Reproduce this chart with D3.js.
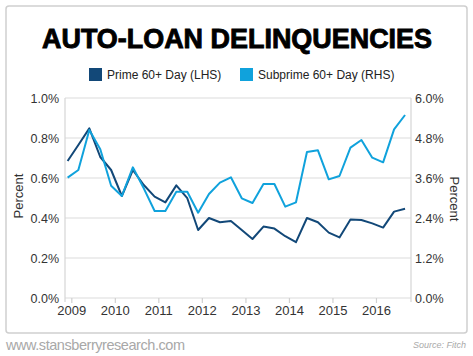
<!DOCTYPE html>
<html><head><meta charset="utf-8">
<script src="https://cdn.jsdelivr.net/npm/d3@7"></script>
<style>body{margin:0;background:#fff}svg{display:block}</style>
</head><body><svg id="c" width="473" height="356"></svg>
<script>
const dates = ["2008-12","2009-03","2009-06","2009-09","2009-12","2010-03","2010-06","2010-09",
  "2010-12","2011-03","2011-06","2011-09","2011-12","2012-03","2012-06","2012-09",
  "2012-12","2013-03","2013-06","2013-09","2013-12","2014-03","2014-06","2014-09",
  "2014-12","2015-03","2015-06","2015-09","2015-12","2016-03","2016-06","2016-09"];
const prime = [0.685,0.765,0.848,0.705,0.64,0.51,0.64,0.565,
  0.507,0.478,0.563,0.499,0.34,0.40,0.379,0.385,
  0.34,0.295,0.357,0.347,0.309,0.279,0.40,0.379,
  0.327,0.303,0.392,0.39,0.373,0.352,0.432,0.446];
const subprime = [3.61,3.84,5.04,4.46,3.37,3.06,3.92,3.29,
  2.61,2.61,3.19,3.19,2.56,3.12,3.46,3.62,
  2.99,2.85,3.42,3.42,2.74,2.87,4.38,4.43,
  3.56,3.66,4.51,4.74,4.21,4.07,5.06,5.49];
const leftTicks = [0,0.2,0.4,0.6,0.8,1.0];
const rightTicks = [0,1.2,2.4,3.6,4.8,6.0];
const yearTicks = [2009,2010,2011,2012,2013,2014,2015,2016];
const seriesNames = ["Prime 60+ Day (LHS)","Subprime 60+ Day (RHS)"];
const colors = ["#124878","#10a2dc"];

const parse = d3.timeParse("%Y-%m");
const svg = d3.select("#c");
const font = "'Liberation Sans', Arial, sans-serif";

svg.append("rect").attr("x",6).attr("y",6).attr("width",461).attr("height",327)
  .attr("rx",3).attr("fill","#fff").attr("stroke","#cfcfcf").attr("stroke-width",1.5);

svg.append("text").attr("x",237).attr("y",47.5).attr("text-anchor","middle")
  .attr("font-family",font).attr("font-weight",900).attr("font-size",27)
  .attr("textLength",390).attr("lengthAdjust","spacingAndGlyphs")
  .attr("fill","#000").attr("stroke","#000").attr("stroke-width",0.9)
  .text("AUTO-LOAN DELINQUENCIES");

const x = d3.scaleTime().domain([new Date(2008,10,9), new Date(2016,9,21)]).range([65,411]);
const yL = d3.scaleLinear().domain([0,1]).range([298,98]);
const yR = d3.scaleLinear().domain([0,6]).range([298,98]);

// gridlines
svg.append("g").selectAll("line").data(leftTicks).join("line")
  .attr("x1",65).attr("x2",411).attr("y1",d=>yL(d)).attr("y2",d=>yL(d))
  .attr("stroke","#dcdcdc").attr("stroke-width",1.2);
// vertical axis lines
[65,411].forEach(px=>svg.append("line").attr("x1",px).attr("x2",px).attr("y1",98).attr("y2",302)
  .attr("stroke","#d6d6d6").attr("stroke-width",1.2));

const gL = svg.append("g").attr("transform","translate(65,0)")
  .call(d3.axisLeft(yL).tickValues(leftTicks).tickFormat(d=>d.toFixed(1)+"%").tickSize(0).tickPadding(6));
const gR = svg.append("g").attr("transform","translate(411,0)")
  .call(d3.axisRight(yR).tickValues(rightTicks).tickFormat(d=>d.toFixed(1)+"%").tickSize(0).tickPadding(4));
const gX = svg.append("g").attr("transform","translate(0,298)")
  .call(d3.axisBottom(x).tickValues(yearTicks.map(y=>new Date(y,0,1))).tickFormat(d3.timeFormat("%Y")).tickSize(5).tickPadding(3));
[gL,gR,gX].forEach(g=>{
  g.select(".domain").remove();
  g.selectAll("text").attr("font-family",font).attr("font-size",12.5).attr("fill","#333");
  g.selectAll(".tick line").attr("stroke","#d0d0d0").attr("stroke-width",1.2);
});
gX.selectAll("text").attr("font-size",13);

svg.append("text").attr("transform","translate(23,196) rotate(-90)").attr("text-anchor","middle")
  .attr("font-family",font).attr("font-size",13).attr("fill","#333").text("Percent");
svg.append("text").attr("transform","translate(450,199) rotate(90)").attr("text-anchor","middle")
  .attr("font-family",font).attr("font-size",13).attr("fill","#333").text("Percent");

const pts = dates.map((d,i)=>({date:parse(d),p:prime[i],s:subprime[i]}));
svg.append("path").datum(pts).attr("fill","none").attr("stroke",colors[0]).attr("stroke-width",2)
  .attr("stroke-linejoin","round").attr("d",d3.line().x(d=>x(d.date)).y(d=>yL(d.p)));
svg.append("path").datum(pts).attr("fill","none").attr("stroke",colors[1]).attr("stroke-width",2)
  .attr("stroke-linejoin","round").attr("d",d3.line().x(d=>x(d.date)).y(d=>yR(d.s)));

// legend
const legX = [89,240];
seriesNames.forEach((n,i)=>{
  svg.append("rect").attr("x",legX[i]).attr("y",68).attr("width",13).attr("height",13).attr("fill",colors[i]);
  svg.append("text").attr("x",legX[i]+18).attr("y",78.5).attr("font-family",font).attr("font-size",12)
    .attr("fill","#222").text(n);
});

svg.append("text").attr("x",6).attr("y",350).attr("font-family",font).attr("font-size",14.5)
  .attr("fill","#a8a8a8").attr("textLength",179).attr("lengthAdjust","spacing").text("www.stansberryresearch.com");
svg.append("text").attr("x",466).attr("y",348).attr("text-anchor","end").attr("font-family",font)
  .attr("font-size",9).attr("font-style","italic").attr("fill","#aaa").text("Source: Fitch");
</script></body></html>
